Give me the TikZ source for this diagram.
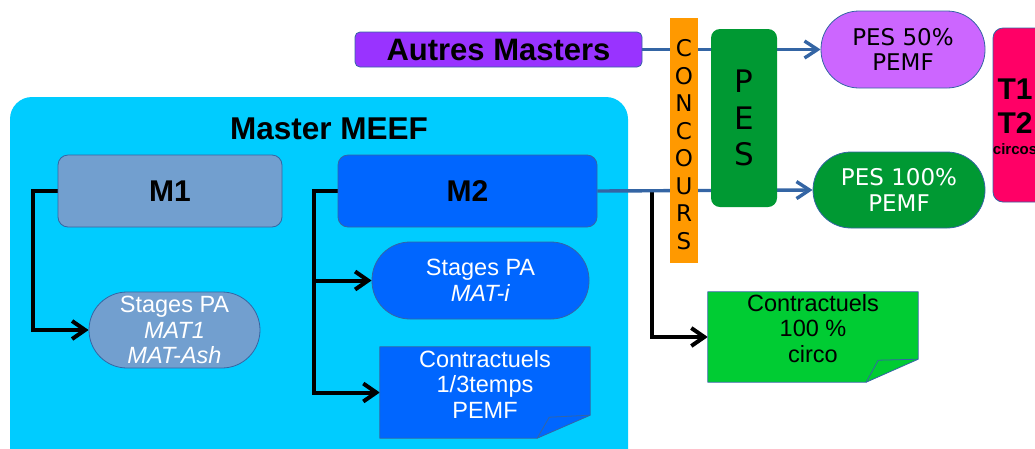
\documentclass[tikz,border=0pt]{standalone}
\usepackage{fontspec}
\setmainfont{Liberation Sans}
\newfontfamily\dvfont{DejaVu Sans}
\usetikzlibrary{arrows.meta,calc}
\pgfdeclarelayer{bg}
\pgfdeclarelayer{lines}
\pgfsetlayers{bg,lines,main}
\definecolor{meefcol}{HTML}{00CCFF}
\definecolor{m1col}{HTML}{729FCF}
\definecolor{m2col}{HTML}{0066FF}
\definecolor{autrescol}{HTML}{9933FF}
\definecolor{concourscol}{HTML}{FF9900}
\definecolor{pescol}{HTML}{009933}
\definecolor{pesfiftycol}{HTML}{CC66FF}
\definecolor{contrcol}{HTML}{00CC33}
\definecolor{tcol}{HTML}{FF0066}
\definecolor{bordcol}{HTML}{3465A4}
\definecolor{conblue}{HTML}{3465A4}
\begin{document}
\begin{tikzpicture}[x=1pt,y=-1pt,
  roundbox/.style={draw=bordcol, line width=0.8pt, rounded corners=10pt, inner sep=0pt, align=center},
  stadium/.style={draw=bordcol, line width=0.8pt, rounded corners=38pt, inner sep=0pt, align=center},
  plainbox/.style={inner sep=0pt, align=center},
  txt/.style={inner sep=0pt, align=center},
  lfont/.style={font=\fontsize{23.5}{25.5}\selectfont},
  bigbold/.style={font=\fontsize{30}{32}\selectfont\bfseries},
  dvtext/.style={font=\dvfont\fontsize{23}{25.5}\selectfont},
  notefill/.style={draw=bordcol, line width=0.8pt, line join=round},
  bluecon/.style={draw=conblue, line width=3.4pt, -{Straight Barb[length=13pt,width=17pt]}},
  blackcon/.style={draw=black, line width=4pt, -{Straight Barb[length=13pt,width=18pt]}}
]
\useasboundingbox (0,0) rectangle (1035,448);
\clip (0,0) rectangle (1035,448);

% Master MEEF background
\begin{pgfonlayer}{bg}
\fill[meefcol, rounded corners=22pt] (10,97) rectangle (628,480);
\end{pgfonlayer}
\node[txt, font=\fontsize{31.5}{33}\selectfont\bfseries] (title) at (329,129) {Master MEEF};

% M1 / M2
\node[roundbox, fill=m1col, minimum width=224, minimum height=72, bigbold] (m1) at (170,191) {M1};
\node[roundbox, fill=m2col, minimum width=259, minimum height=72, bigbold] (m2) at (467.5,191) {M2};

% stages
\node[stadium, fill=m1col, minimum width=171, minimum height=76, lfont, text=white] (mat1) at (174.5,330)
  {Stages PA\\\textit{MAT1}\\\textit{MAT-Ash}};
\node[stadium, fill=m2col, minimum width=217, minimum height=77, lfont, text=white] (mati) at (480.5,280.5)
  {Stages PA\\\textit{MAT-i}};

% Contractuels 1/3 temps (note)
\node[plainbox, minimum width=210, minimum height=91] (c13) at (485,392.5) {};
\fill[m2col] (c13.north west) -- (c13.north east) -- ($(c13.south east)+(0,-23)$) -- ($(c13.south east)+(-53,0)$) -- (c13.south west) -- cycle;
\draw[notefill] (c13.north west) -- (c13.north east) -- ($(c13.south east)+(0,-23)$) -- ($(c13.south east)+(-53,0)$) -- (c13.south west) -- cycle;
\draw[notefill] ($(c13.south east)+(-53,0)$) -- ($(c13.south east)+(-41,-21)$) -- ($(c13.south east)+(0,-23)$);
\node[txt, lfont, text=white, anchor=north] (c13t) at ($(c13.north)+(0,3)$) {Contractuels\\1/3temps\\PEMF};

% Autres Masters
\node[draw=bordcol, line width=0.8pt, rounded corners=5pt, fill=autrescol, minimum width=287, minimum height=35, inner sep=0pt,
  font=\fontsize{31}{33}\selectfont\bfseries] (autres) at (498.5,49.5) {Autres Masters};

% CONCOURS
\node[plainbox, fill=concourscol, minimum width=28, minimum height=245] (concours) at (684,140.5) {};
\node[txt, font=\dvfont\fontsize{23}{27.5}\selectfont] (concourst) at (684,144.5) {C\\O\\N\\C\\O\\U\\R\\S};

% PES
\node[plainbox, fill=pescol, rounded corners=9pt, minimum width=66, minimum height=178,
  font=\dvfont\fontsize{31}{36.5}\selectfont] (pes) at (744,118) {P\\E\\S};

% PES 50% / 100%
\node[stadium, fill=pesfiftycol, minimum width=164, minimum height=77, dvtext] (pes50) at (903,49.5) {PES 50\%\\PEMF};
\node[stadium, fill=pescol, minimum width=172, minimum height=76, dvtext, text=white] (pes100) at (899,190) {PES 100\%\\PEMF};

% Contractuels 100% (note)
\node[plainbox, minimum width=210, minimum height=90] (c100) at (813,337) {};
\fill[contrcol] (c100.north west) -- (c100.north east) -- ($(c100.south east)+(0,-23)$) -- ($(c100.south east)+(-52,0)$) -- (c100.south west) -- cycle;
\draw[notefill] (c100.north west) -- (c100.north east) -- ($(c100.south east)+(0,-23)$) -- ($(c100.south east)+(-52,0)$) -- (c100.south west) -- cycle;
\draw[notefill] ($(c100.south east)+(-52,0)$) -- ($(c100.south east)+(-40,-22)$) -- ($(c100.south east)+(0,-23)$);
\node[txt, lfont, anchor=north] (c100t) at ($(c100.north)+(0,2)$) {Contractuels\\100 \%\\circo};

% T1 T2
\node[roundbox, fill=tcol, minimum width=60, minimum height=174] (tt) at (1023,115) {};
\node[txt, font=\fontsize{30}{34}\selectfont\bfseries] (ttt) at (1015,106) {T1\\T2};
\node[txt, font=\fontsize{15}{16}\selectfont\bfseries] (circos) at (1015,149) {circos};

% connectors
\begin{pgfonlayer}{lines}
\draw[blackcon] (m1.west) -- ++(-25,0) |- (mat1.west);
\draw[blackcon] (m2.west) -- ++(-24,0) |- (mati.west);
\draw[blackcon] (m2.west) -- ++(-24,0) |- (c13.west);
\coordinate (jn) at ($(m2.east)+(55,0)$);
\draw[blackcon] (jn) |- (c100.west);
\draw[bluecon] (m2.east) -- (pes100.west);
\draw[bluecon] (autres.east) -- (pes50.west);
\end{pgfonlayer}
\end{tikzpicture}
\end{document}
